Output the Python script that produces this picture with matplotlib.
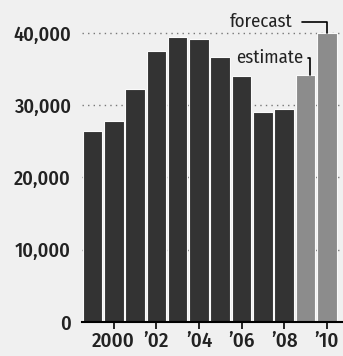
#!/usr/bin/env python
"""Bar chart: yearly totals with estimate and forecast"""

import matplotlib
matplotlib.use('Agg')
import matplotlib.pyplot as plt

years = [1999, 2000, 2001, 2002, 2003, 2004, 2005, 2006, 2007, 2008, 2009, 2010]
values = [26400, 27800, 32300, 37500, 39400, 39200, 36700, 34000, 29100, 29500, 34200, 40000]
kinds = ['actual'] * 10 + ['estimate', 'forecast']

yticks = [0, 10000, 20000, 30000, 40000]
ytick_labels = ['0', '10,000', '20,000', '30,000', '40,000']
xticks = [2000, 2002, 2004, 2006, 2008, 2010]
xtick_labels = ['2000', "\u201902", "\u201904", "\u201906", "\u201908", "\u201910"]

bg = '#f0f0f0'
dark = '#333333'
light = '#8c8c8c'

plt.rcParams['font.family'] = ['Fira Sans Condensed', 'Roboto Condensed', 'DejaVu Sans']

fig = plt.figure(figsize=(3.43, 3.56), dpi=100, facecolor=bg)
ax = fig.add_axes([82 / 343, 34 / 356, 261 / 343, 312 / 356])
ax.set_facecolor(bg)

colors = [dark if k == 'actual' else light for k in kinds]
ax.bar(years, values, width=0.92, color=colors, edgecolor='#fafafa',
       linewidth=0.8, zorder=2)

ax.set_xlim(1998.51, 2010.76)
ax.set_ylim(0, 43180)

for y in yticks[1:]:
    ax.axhline(y, color='#777777', lw=1.0, ls=(0, (1, 3)), zorder=1)

ax.set_yticks(yticks)
ax.set_yticklabels(ytick_labels, fontweight='medium')
ax.set_xticks(xticks)
ax.set_xticklabels(xtick_labels, fontweight='medium')
ax.tick_params(axis='y', length=0, pad=8, labelsize=14.5, labelcolor='#222222')
ax.tick_params(axis='x', length=5, width=1.2, pad=2, labelsize=15,
               labelcolor='#222222', color='black')

for side in ['top', 'right', 'left']:
    ax.spines[side].set_visible(False)
ax.spines['bottom'].set_linewidth(1.5)
ax.spines['bottom'].set_zorder(3)

# leader lines for the two last bars
ax.annotate('forecast', xy=(2010, values[11]), xytext=(2008.4, 41500),
            fontsize=13.5, color='#222222', ha='right', va='center',
            arrowprops=dict(arrowstyle='-', color='black', lw=1.2,
                            connectionstyle='angle,angleA=0,angleB=90,rad=0',
                            shrinkA=5, shrinkB=0))
ax.annotate('estimate', xy=(2009.2, values[10]), xytext=(2008.9, 36500),
            fontsize=13.5, color='#222222', ha='right', va='center',
            arrowprops=dict(arrowstyle='-', color='black', lw=1.2,
                            connectionstyle='angle,angleA=0,angleB=90,rad=0',
                            shrinkA=1, shrinkB=0))

plt.savefig('out.png', dpi=100, facecolor=bg)
